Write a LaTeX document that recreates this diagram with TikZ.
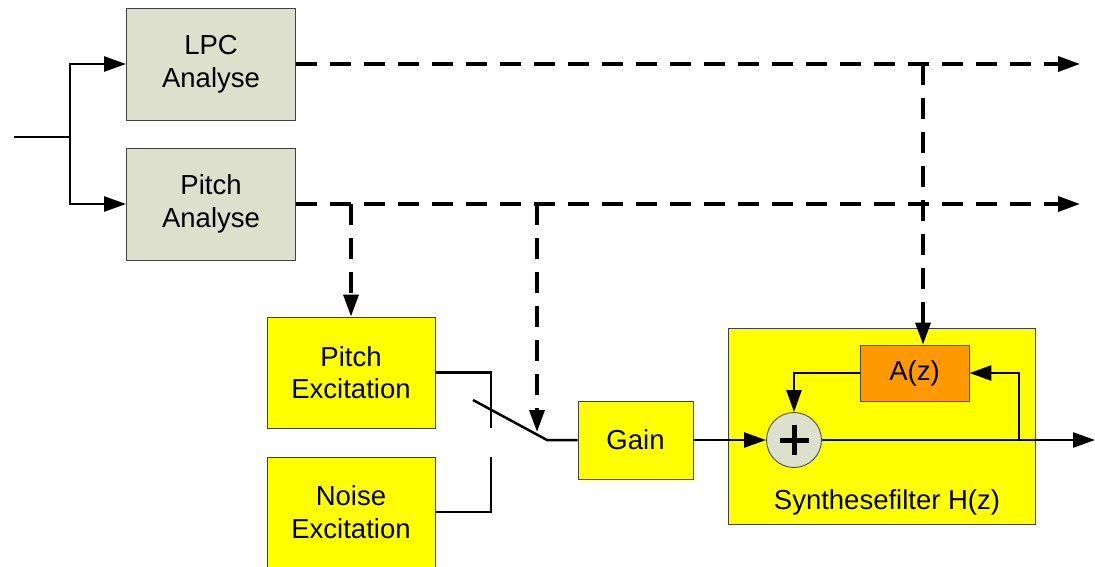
\documentclass[tikz,border=0pt]{standalone}
\usepackage{fontspec}
\setmainfont{Liberation Sans}
\usetikzlibrary{arrows.meta,calc}
\definecolor{anafill}{HTML}{DDE0CC}
\definecolor{sigyellow}{HTML}{FFFF00}
\definecolor{filtorange}{HTML}{FF9900}
\begin{document}
\begin{tikzpicture}[x=1pt,y=-1pt,
  blk/.style={draw=black!75, line width=0.9pt, align=center, inner sep=0pt,
    font=\fontsize{27.5}{32.5}\selectfont},
  anabox/.style={blk, fill=anafill, minimum width=169pt, minimum height=112pt},
  excbox/.style={blk, fill=sigyellow, minimum width=168pt, minimum height=111pt},
  wire/.style={line width=2.5pt},
  ctrl/.style={line width=3.5pt, dash pattern=on 21pt off 13pt},
  tip/.style={-{Triangle[length=22pt,width=15pt]}}]
\useasboundingbox (0,0) rectangle (1095,566);

% analysis stage
\node[anabox] (lpc) at (211,64) {LPC\\Analyse};
\node[anabox] (pa) at (211,204) {Pitch\\Analyse};

% excitation sources
\node[excbox] (pe) at (351,372.5) {Pitch\\Excitation};
\node[excbox, minimum height=110pt] (ne) at (351,512) {Noise\\Excitation};

% gain and synthesis filter
\node[blk, fill=sigyellow, minimum width=115pt, minimum height=78pt] (gain) at (635.5,440) {Gain};
\node[blk, fill=sigyellow, minimum width=307pt, minimum height=196pt] (synth) at (881.5,426) {};
\node[font=\fontsize{27.5}{32.5}\selectfont] (synthlbl) at (887,502) {Synthesefilter H(z)};
\node[blk, fill=filtorange, minimum width=109pt, minimum height=56pt] (az) at (914.5,373) {A(z)};
\node[circle, draw=black!70, line width=0.9pt, fill=anafill, minimum size=55pt, inner sep=0pt] (sum) at (794,440) {};
\draw[line width=5pt] ($(sum.center)+(-14.5,0)$) -- ($(sum.center)+(14.5,0)$);
\draw[line width=5pt] ($(sum.center)+(0,-15)$) -- ($(sum.center)+(0,15)$);

% junction points
\coordinate (in) at (14,137);
\coordinate (split) at (70,137);
\coordinate (lpcout) at (1080,64);
\coordinate (paout) at (1080,204);
\coordinate (azdrop) at (923,64);
\coordinate (pedrop) at (351,204);
\coordinate (swdrop) at (537,204);
\coordinate (swtip) at (537,432);
\coordinate (swa) at (473,400);
\coordinate (swb) at (547,440);
\coordinate (c1) at (491,428);
\coordinate (c2) at (491,457);
\coordinate (fb) at (1019,440);
\coordinate (out) at (1095,440);

% input branching
\draw[wire] (in) -- (split);
\draw[wire, tip] (split) |- (lpc.west);
\draw[wire, tip] (split) |- (pa.west);

% parameter lines (dashed)
\draw[ctrl, tip] (lpc.east) -- (lpcout);
\draw[ctrl, tip] (pa.east) -- (paout);
\draw[ctrl, tip] (azdrop) -- (azdrop |- az.north);
\draw[ctrl, tip] (pedrop) -- (pe.north);
\draw[ctrl, tip] (swdrop) -- (swtip);

% voiced/unvoiced switch
\draw[wire] (pe.east) -| (c1);
\draw[wire] (ne.east) -| (c2);
\draw[wire] (swa) -- (swb) -- (gain.west);

% synthesis path with feedback
\draw[wire, tip] (gain.east) -- (sum.west);
\draw[wire, tip] (sum.east) -- (out);
\draw[wire, tip] (fb) |- (az.east);
\draw[wire, tip] (az.west) -| (sum.north);
\end{tikzpicture}
\end{document}
